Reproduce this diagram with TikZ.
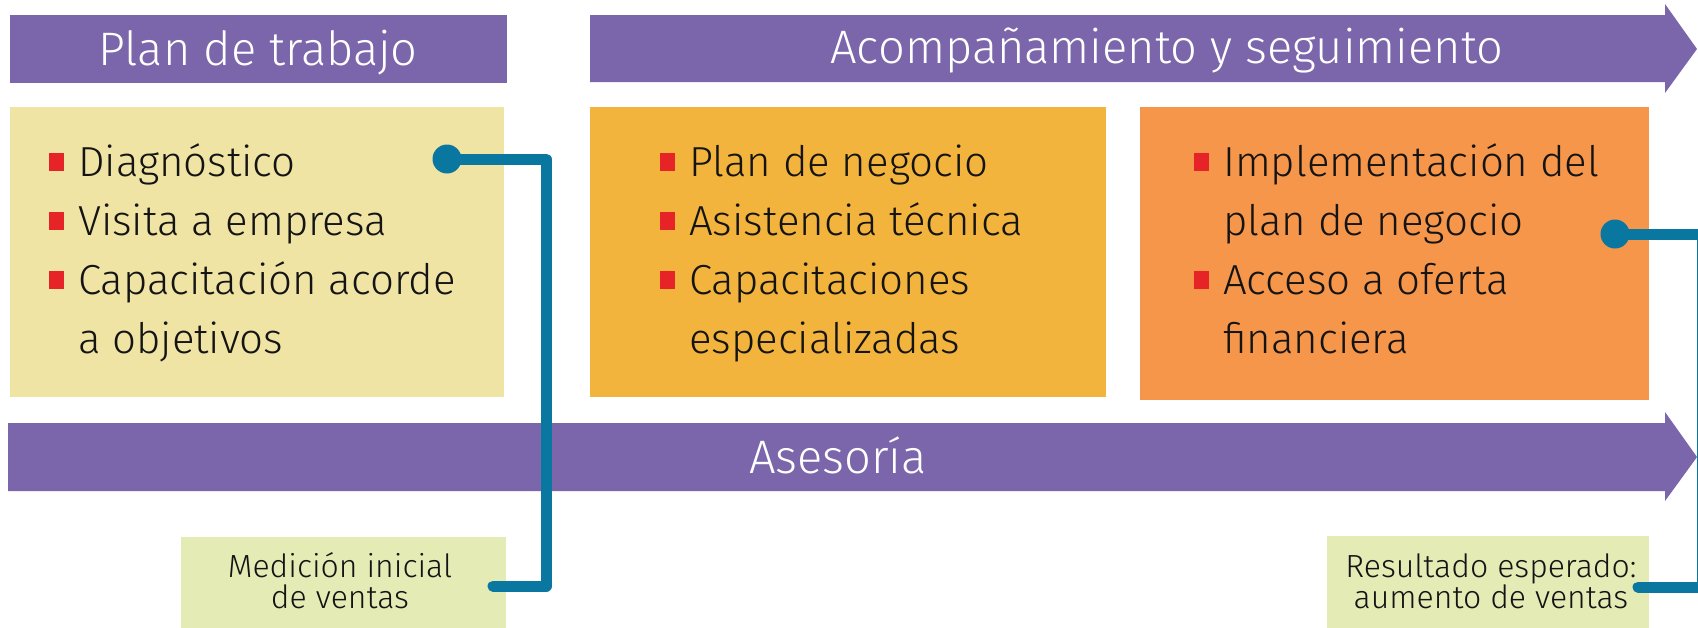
\documentclass[tikz,border=0pt]{standalone}
\usepackage{fontspec}
\setmainfont{Fira Sans Light}
\definecolor{purp}{RGB}{123,101,171}
\definecolor{yel1}{RGB}{240,228,164}
\definecolor{yel2}{RGB}{242,180,60}
\definecolor{ora}{RGB}{245,150,74}
\definecolor{grn}{RGB}{228,235,181}
\definecolor{conn}{RGB}{10,119,160}
\definecolor{bred}{RGB}{230,36,40}
\definecolor{ink}{RGB}{20,20,20}
\newcommand{\bsq}{\makebox[29pt][l]{\textcolor{bred}{\rule[5pt]{15pt}{18pt}}}}
\newcommand{\ind}{\hspace*{29pt}}
\begin{document}
\begin{tikzpicture}[x=1pt,y=-1pt,
  panel/.style={rectangle, inner sep=0, outer sep=0, draw=none, anchor=north west},
  line/.style={inner sep=0, anchor=base west, text=ink, font=\fontsize{42}{48}\selectfont},
  head/.style={inner sep=0, anchor=base, text=white, font=\fontsize{47}{55}\selectfont},
  note/.style={inner sep=0, anchor=base, text=ink, font=\fontsize{32}{36}\selectfont},
  link/.style={draw=conn, line width=11pt, line cap=round, line join=round},
  dot/.style={circle, fill=conn, inner sep=0, minimum size=29pt}
]
\fill[white] (0,0) rectangle (1698,627);
\useasboundingbox (0,0) rectangle (1698,627);

% headers
\node[panel, fill=purp, minimum width=497pt, minimum height=68pt] (h1) at (10,15) {};
\node[head] (h1t) at (258,65) {Plan de trabajo};
\fill[purp] (590,15) -- (1665,15) -- (1665,4) -- (1697,49) -- (1665,93) -- (1665,82) -- (590,82) -- cycle;
\node[head] (h2t) at (1167,63) {Acompañamiento y seguimiento};

% boxes
\node[panel, fill=yel1, minimum width=494pt, minimum height=290pt] (b1) at (10,107) {};
\node[panel, fill=yel2, minimum width=516pt, minimum height=290pt] (b2) at (590,107) {};
\node[panel, fill=ora, minimum width=509pt, minimum height=293pt] (b3) at (1140,107) {};

\node[line] (l11) at (49,176) {\bsq Diagnóstico};
\node[line] (l12) at (49,235) {\bsq Visita a empresa};
\node[line] (l13) at (49,294) {\bsq Capacitación acorde};
\node[line] (l14) at (49,353) {\ind a objetivos};

\node[line] (l21) at (660,176) {\bsq Plan de negocio};
\node[line] (l22) at (660,235) {\bsq Asistencia técnica};
\node[line] (l23) at (660,294) {\bsq Capacitaciones};
\node[line] (l24) at (660,353) {\ind especializadas};

\node[line] (l31) at (1194,176) {\bsq Implementación del};
\node[line] (l32) at (1194,235) {\ind plan de negocio};
\node[line] (l33) at (1194,294) {\bsq Acceso a oferta};
\node[line] (l34) at (1194,353) {\ind financiera};

% Asesoria arrow
\fill[purp] (8,423) -- (1665,423) -- (1665,412) -- (1697,457) -- (1665,501) -- (1665,491) -- (8,491) -- cycle;
\node[head] (at) at (838,473) {Asesoría};

% green notes
\node[panel, fill=grn, minimum width=325pt, minimum height=95pt] (g1) at (181,537) {};
\node[note] (g1a) at (340,577) {Medición inicial};
\node[note] (g1b) at (340,608) {de ventas};
\node[panel, fill=grn, minimum width=322pt, minimum height=95pt] (g2) at (1327,536) {};
\node[note] (g2a) at (1491,577) {Resultado esperado:};
\node[note] (g2b) at (1491,608) {aumento de ventas};

% connectors
\node[dot] (d1) at (447,159) {};
\coordinate (k1) at (546,586);
\coordinate (e1) at (493,586);
\draw[link] (d1.center) -| (k1) -- (e1);
\node[dot] (d2) at (1615,234) {};
\coordinate (k2) at (1702,587);
\coordinate (e2) at (1638,587);
\draw[link] (d2.center) -| (k2) -- (e2);
\end{tikzpicture}
\end{document}
